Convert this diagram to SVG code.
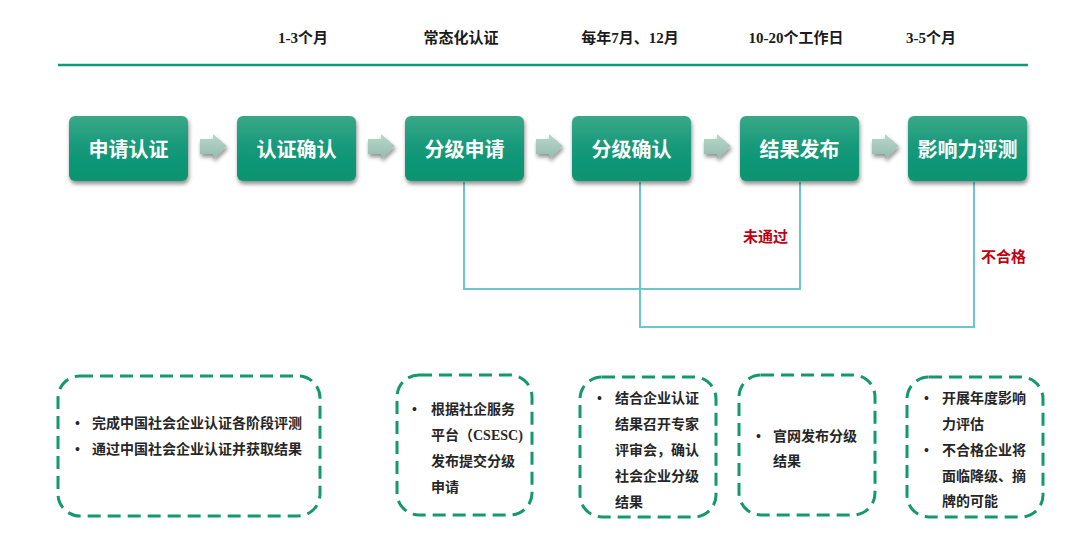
<svg xmlns="http://www.w3.org/2000/svg" width="1080" height="544" viewBox="0 0 1080 544">
<defs>
<linearGradient id="gBox" x1="0" y1="0" x2="0" y2="1">
<stop offset="0" stop-color="#3aa887"/>
<stop offset="0.5" stop-color="#14997a"/>
<stop offset="1" stop-color="#089470"/>
</linearGradient>
<linearGradient id="gArr" x1="0" y1="0" x2="0" y2="1">
<stop offset="0" stop-color="#b9d6cb"/>
<stop offset="1" stop-color="#94bcae"/>
</linearGradient>
<filter id="sh" x="-10%" y="-10%" width="130%" height="140%">
<feGaussianBlur in="SourceAlpha" stdDeviation="2"/>
<feOffset dx="1" dy="3" result="b"/>
<feComponentTransfer><feFuncA type="linear" slope="0.45"/></feComponentTransfer>
<feMerge><feMergeNode/><feMergeNode in="SourceGraphic"/></feMerge>
</filter>
<path id="arr" d="M0,5 H13 V0 L27,12 L13,25 V20 H0 Z"/>
</defs>
<style>
.hdr{font-family:"Liberation Serif","Noto Sans CJK SC",serif;font-size:15px;font-weight:bold;fill:#1a1a1a;text-anchor:middle}
.box{fill:url(#gBox);filter:url(#sh)}
.lbl{font-family:"Noto Sans CJK SC","Liberation Serif",serif;font-size:20px;font-weight:bold;fill:#ffffff;text-anchor:middle;dominant-baseline:central}
.arrow{fill:url(#gArr);filter:url(#sh)}
.conn{fill:none;stroke:#6cc6d0;stroke-width:2}
.red{font-family:"Noto Sans CJK SC","Liberation Serif",serif;font-size:15px;font-weight:bold;fill:#c00010;dominant-baseline:central}
.dash{fill:none;stroke:#14996f;stroke-width:3;stroke-dasharray:13 7}
.txt{font-family:"Liberation Serif","Noto Sans CJK SC",serif;font-size:14px;font-weight:bold;fill:#262626;dominant-baseline:central}
.bul{font-family:"Liberation Serif",serif;font-size:14px;font-weight:bold;fill:#262626;dominant-baseline:central}
</style>
<rect width="1080" height="544" fill="#ffffff"/>
<g id="header">
<text class="hdr" x="303" y="43">1-3个月</text>
<text class="hdr" x="461" y="43">常态化认证</text>
<text class="hdr" x="630" y="43">每年7月、12月</text>
<text class="hdr" x="796" y="43">10-20个工作日</text>
<text class="hdr" x="931" y="43">3-5个月</text>
<line x1="58" y1="65" x2="1028" y2="65" stroke="#0e9a78" stroke-width="2.5"/>
</g>
<g id="connectors">
<use href="#arr" class="arrow" x="200" y="134"/>
<use href="#arr" class="arrow" x="368" y="134"/>
<use href="#arr" class="arrow" x="536" y="134"/>
<use href="#arr" class="arrow" x="704" y="134"/>
<use href="#arr" class="arrow" x="872" y="134"/>
<polyline class="conn" points="464,182 464,289 800,289 800,182"/>
<polyline class="conn" points="640,182 640,327 974,327 974,182"/>
<text class="red" x="743" y="235">未通过</text>
<text class="red" x="981" y="255">不合格</text>
</g>
<g id="n1"><rect class="box" x="69" y="116" width="119" height="65" rx="6"/><text class="lbl" x="128.5" y="148.5">申请认证</text></g>
<g id="n2"><rect class="box" x="237" y="116" width="119" height="65" rx="6"/><text class="lbl" x="296.5" y="148.5">认证确认</text></g>
<g id="n3"><rect class="box" x="405" y="116" width="119" height="65" rx="6"/><text class="lbl" x="464.5" y="148.5">分级申请</text></g>
<g id="n4"><rect class="box" x="572" y="116" width="119" height="65" rx="6"/><text class="lbl" x="631.5" y="148.5">分级确认</text></g>
<g id="n5"><rect class="box" x="740" y="116" width="119" height="65" rx="6"/><text class="lbl" x="799.5" y="148.5">结果发布</text></g>
<g id="n6"><rect class="box" x="908" y="116" width="119" height="65" rx="6"/><text class="lbl" x="967.5" y="148.5">影响力评测</text></g>
<g id="d1"><rect class="dash" x="58" y="376" width="262" height="140" rx="22"/>
<text class="bul" x="75" y="423">•</text><text class="txt" x="92" y="423">完成中国社会企业认证各阶段评测</text>
<text class="bul" x="75" y="449">•</text><text class="txt" x="92" y="449">通过中国社会企业认证并获取结果</text></g>
<g id="d2"><rect class="dash" x="397" y="375" width="135" height="140" rx="22"/>
<text class="bul" x="412" y="409">•</text>
<text class="txt" x="431" y="409">根据社企服务</text>
<text class="txt" x="431" y="435">平台（CSESC)</text>
<text class="txt" x="431" y="461">发布提交分级</text>
<text class="txt" x="431" y="487">申请</text></g>
<g id="d3"><rect class="dash" x="580" y="377" width="136" height="140" rx="22"/>
<text class="bul" x="597" y="398">•</text>
<text class="txt" x="615" y="398">结合企业认证</text>
<text class="txt" x="615" y="424">结果召开专家</text>
<text class="txt" x="615" y="450">评审会，确认</text>
<text class="txt" x="615" y="476">社会企业分级</text>
<text class="txt" x="615" y="502">结果</text></g>
<g id="d4"><rect class="dash" x="739" y="375" width="136" height="140" rx="22"/>
<text class="bul" x="756" y="436">•</text>
<text class="txt" x="773" y="436">官网发布分级</text>
<text class="txt" x="773" y="461">结果</text></g>
<g id="d5"><rect class="dash" x="907" y="377" width="136" height="140" rx="22"/>
<text class="bul" x="924" y="398">•</text>
<text class="txt" x="942" y="398">开展年度影响</text>
<text class="txt" x="942" y="424">力评估</text>
<text class="bul" x="924" y="450">•</text>
<text class="txt" x="942" y="450">不合格企业将</text>
<text class="txt" x="942" y="476">面临降级、摘</text>
<text class="txt" x="942" y="501">牌的可能</text></g>
</svg>
